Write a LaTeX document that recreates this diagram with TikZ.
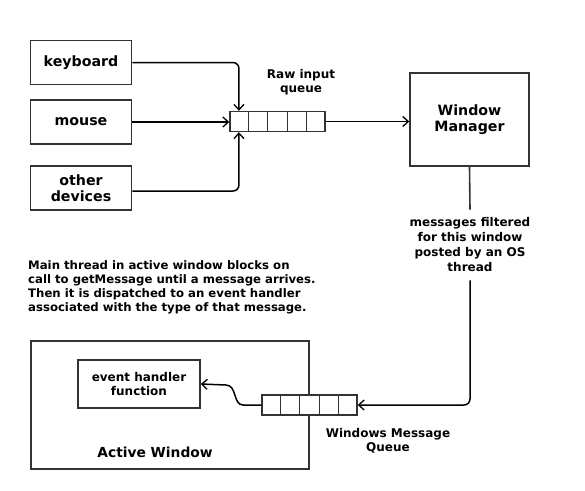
\documentclass[tikz,border=0pt]{standalone}
\usepackage{fontspec}
\setmainfont{DejaVu Sans}
\usetikzlibrary{arrows.meta,calc}
\definecolor{edge}{HTML}{333333}
\begin{document}
\begin{tikzpicture}[x=1pt,y=-1pt,
  box/.style={draw=edge, line width=1.6pt, fill=white, inner sep=0pt, align=center,
    font=\bfseries\fontsize{14.2}{16}\selectfont},
  queuebox/.style={draw=edge, line width=1.4pt, fill=white, inner sep=0pt,
    minimum width=95pt, minimum height=20pt},
  lbl/.style={align=center, inner sep=0pt, font=\bfseries\fontsize{12}{14}\selectfont},
  conn/.style={line width=1.5pt, rounded corners=6pt,
    -{Straight Barb[length=5.5pt,width=10pt,line width=1.3pt]}},
  plain/.style={line width=1.6pt, draw=edge}
]
\useasboundingbox (0,0) rectangle (585,490);

% sources
\node[box, minimum width=101pt, minimum height=44pt] (kb) at (81,62.5) {keyboard};
\node[box, minimum width=101pt, minimum height=44pt] (ms) at (81,122) {mouse};
\node[box, minimum width=101pt, minimum height=44pt] (od) at (81,188) {other\\devices};

% raw input queue
\node[queuebox] (rq) at (277.5,121.5) {};
\foreach \i in {1,...,4}
  \draw[edge, line width=1.2pt] ($(rq.north west)!\i/5!(rq.north east)$) -- ($(rq.south west)!\i/5!(rq.south east)$);
\coordinate (rqtop) at ($(rq.north west)!0.1!(rq.north east)$);
\coordinate (rqbot) at ($(rq.south west)!0.1!(rq.south east)$);
\node[lbl] (rql) at (301,82) {Raw input\\queue};

% window manager
\node[box, minimum width=119pt, minimum height=93pt] (wm) at (469.5,119.5) {Window\\Manager};

\draw[conn] (kb.east) -| (rqtop);
\draw[conn] (ms.east) -- (ms.east -| rq.west);
\draw[conn] ([yshift=-3pt]od.east) -| (rqbot);
\draw[conn] (rq.east) -- (rq.east -| wm.west);

% filtered messages label
\node[lbl, font=\bfseries\fontsize{12}{15}\selectfont] (mf) at (470,245) {messages filtered\\for this window\\posted by an OS\\thread};

% active window
\node[box, minimum width=278pt, minimum height=128pt] (aw) at (170,405) {};
\node[lbl, font=\bfseries\fontsize{13.8}{15.5}\selectfont] (awl) at (155,452.5) {Active Window};
\node[box, font=\bfseries\fontsize{12}{14}\selectfont, minimum width=122pt, minimum height=48pt] (eh) at (139,384) {event handler\\function};

% message queue
\node[queuebox] (mq) at (309.5,405) {};
\foreach \i in {1,...,4}
  \draw[edge, line width=1.2pt] ($(mq.north west)!\i/5!(mq.north east)$) -- ($(mq.south west)!\i/5!(mq.south east)$);
\node[lbl, font=\bfseries\fontsize{12}{14}\selectfont] (mql) at (388,441) {Windows Message\\Queue};

\draw[plain] (wm.south) -- ([yshift=8pt]mf.north);
\draw[conn] ([yshift=-8pt]mf.south) |- (mq.east);
\draw[conn, rounded corners=0pt] (mq.west) -- (243,405) .. controls (233,405) and (237,385) .. (226,385) -- (eh.east);

% description
\node[anchor=north west, align=left, inner sep=0pt,
  font=\bfseries\fontsize{11.7}{14}\selectfont] (mt) at (28,260)
  {Main thread in active window blocks on\\
   call to getMessage until a message arrives.\\
   Then it is dispatched to an event handler\\
   associated with the type of that message.};
\end{tikzpicture}
\end{document}
